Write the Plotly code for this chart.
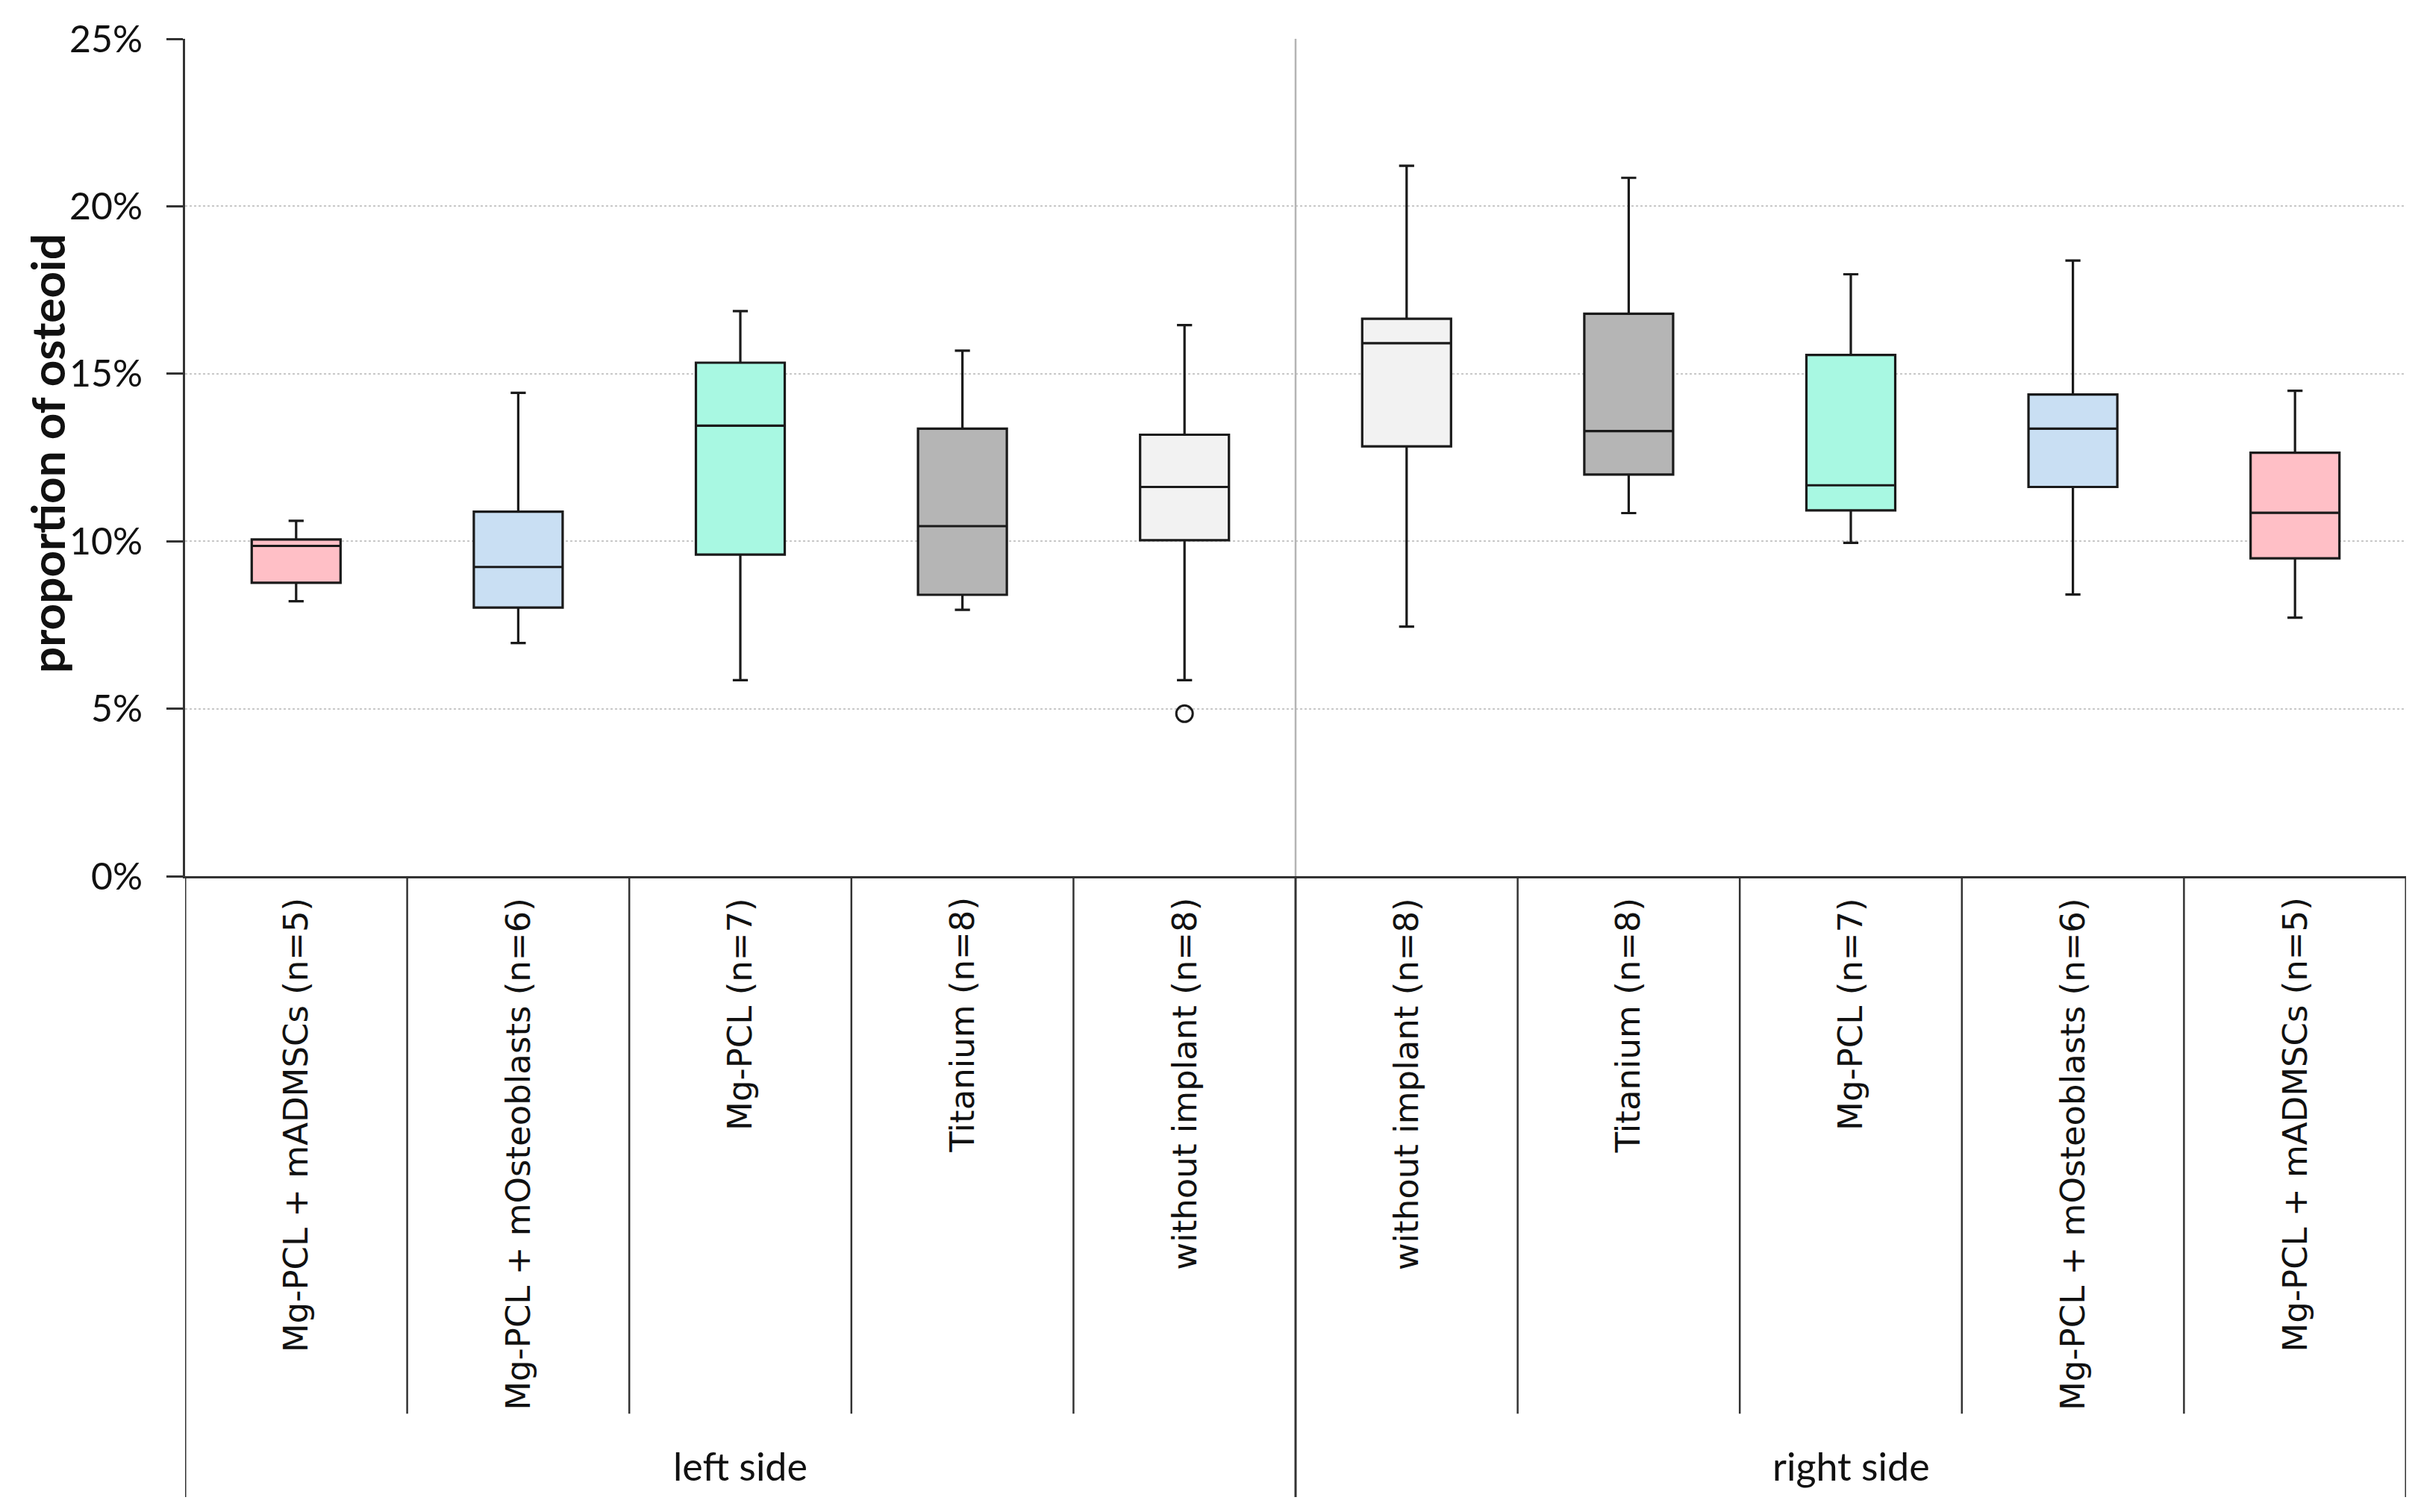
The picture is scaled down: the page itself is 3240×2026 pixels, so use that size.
import plotly.graph_objects as go

labels = ["Mg-PCL + mADMSCs (n=5)", "Mg-PCL + mOsteoblasts (n=6)", "Mg-PCL (n=7)",
          "Titanium (n=8)", "without implant (n=8)", "without implant (n=8)",
          "Titanium (n=8)", "Mg-PCL (n=7)", "Mg-PCL + mOsteoblasts (n=6)",
          "Mg-PCL + mADMSCs (n=5)"]
sides = ["left side", "right side"]
lower = [8.21, 6.96, 5.85, 7.95, 5.85, 7.45, 10.84, 9.95, 8.41, 7.72]
q1 = [8.76, 8.02, 9.60, 8.40, 10.03, 12.83, 11.99, 10.92, 11.62, 9.49]
median = [9.86, 9.23, 13.45, 10.45, 11.62, 15.91, 13.29, 11.67, 13.36, 10.85]
q3 = [10.05, 10.88, 15.33, 13.36, 13.18, 16.64, 16.79, 15.56, 14.38, 12.64]
upper = [10.61, 14.43, 16.87, 15.69, 16.45, 21.21, 20.85, 17.97, 18.38, 14.49]
outlier_idx = [4]
outlier_val = [4.85]
colors = ["#FFBFC6", "#C9DFF3", "#A8F8E2", "#B5B5B5", "#F2F2F2",
          "#F2F2F2", "#B5B5B5", "#A8F8E2", "#C9DFF3", "#FFBFC6"]
yticks = [0, 5, 10, 15, 20, 25]
ytick_text = ["0%", "5%", "10%", "15%", "20%", "25%"]

TXT = "Lato"
fig = go.Figure()
for i in range(len(labels)):
    fig.add_trace(go.Box(
        x=[i], q1=[q1[i]], median=[median[i]], q3=[q3[i]],
        lowerfence=[lower[i]], upperfence=[upper[i]],
        fillcolor=colors[i], line=dict(color="#1a1a1a", width=3.2),
        width=0.4, whiskerwidth=0.17, boxpoints=False, showlegend=False,
        hoverinfo="skip"))

fig.add_trace(go.Scatter(
    x=outlier_idx, y=outlier_val, mode="markers", showlegend=False,
    marker=dict(symbol="circle-open", size=22, color="#1a1a1a", line=dict(width=3))))

n = len(labels)
shapes = []
shapes.append(dict(type="line", xref="x", yref="y", x0=n / 2 - 0.5, x1=n / 2 - 0.5,
                   y0=0, y1=25, line=dict(color="#b4b4b4", width=2.5)))
for k in range(n + 1):
    xb = k - 0.5
    major = k in (0, n // 2, n)
    shapes.append(dict(type="line", xref="x", yref="paper", x0=xb, x1=xb,
                       y0=0, y1=-0.7416 if major else -0.642,
                       line=dict(color="#333333", width=2.5 if not major else 3)))

annotations = []
for i, lab in enumerate(labels):
    annotations.append(dict(x=i, y=-0.024, xref="x", yref="paper", text=lab,
                            textangle=-90, showarrow=False, xanchor="center",
                            yanchor="top",
                            font=dict(family="DejaVu Sans", size=45, color="#111111")))
for s, side in enumerate(sides):
    annotations.append(dict(x=s * n / 2 + (n / 2 - 1) / 2, y=-0.704, xref="x", yref="paper",
                            text=side, showarrow=False, xanchor="center", yanchor="middle",
                            font=dict(family=TXT, size=52, color="#111111")))
annotations.append(dict(x=-0.062, y=0.505, xref="paper", yref="paper",
                        text="<b>proportion of osteoid</b>", textangle=-90,
                        showarrow=False, xanchor="center", yanchor="middle",
                        font=dict(family=TXT, size=62, color="#111111")))

fig.update_layout(
    width=3240, height=2026,
    margin=dict(l=240, r=24, t=37, b=860),
    paper_bgcolor="white", plot_bgcolor="white",
    shapes=shapes, annotations=annotations,
    xaxis=dict(range=[-0.5, n - 0.5], showticklabels=False, ticks="",
               showgrid=False, zeroline=False, showline=True,
               linecolor="#333333", linewidth=3),
    yaxis=dict(range=[0, 25], tickvals=yticks, ticktext=ytick_text,
               ticks="outside", ticklen=22, tickwidth=3, tickcolor="#333333",
               showline=True, linecolor="#333333", linewidth=3,
               showgrid=True, gridcolor="#c8c8c8", gridwidth=2, griddash="dot",
               zeroline=False, ticklabelstandoff=22,
               tickfont=dict(family=TXT, size=50, color="#111111")),
)

fig.write_html("out.html")
